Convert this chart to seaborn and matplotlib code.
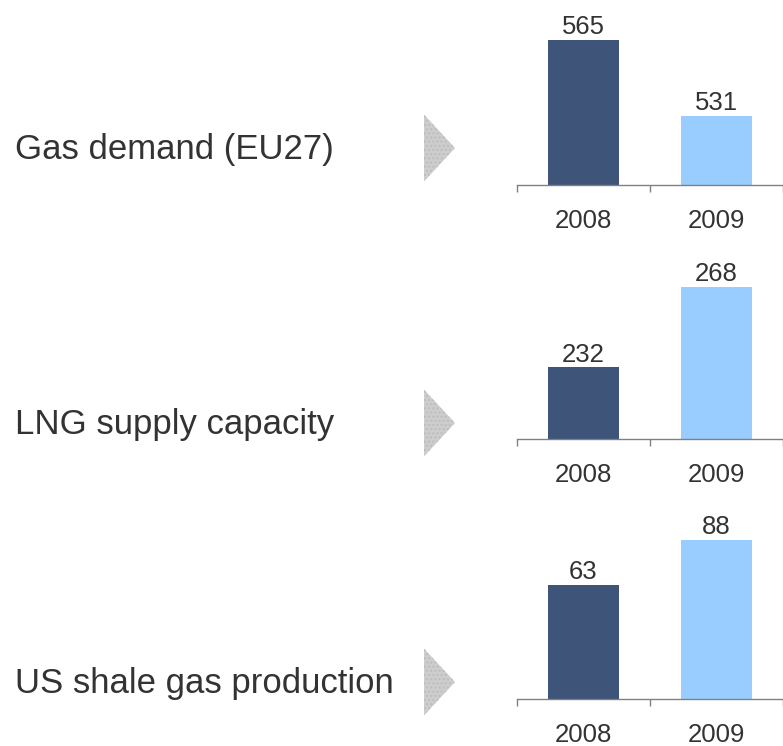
import matplotlib
matplotlib.use("Agg")
import matplotlib.pyplot as plt
from matplotlib.patches import Polygon
import seaborn as sns
import pandas as pd

# ---- data ----
metrics = ["Gas demand (EU27)", "LNG supply capacity", "US shale gas production"]
years = ["2008", "2009"]
values_2008 = [565, 232, 63]
values_2009 = [531, 268, 88]
y_floor = [500, 200, 0]      # value axis starts
y_ceiling = [576, 276, 94]   # value axis ends

dark = "#3F5479"
light = "#99CCFF"
text_col = "#333333"
axis_col = "#808080"

sns.set_theme(style="white")
plt.rcParams["font.family"] = ["Liberation Sans", "DejaVu Sans"]
plt.rcParams["hatch.linewidth"] = 1.0

W, H = 783, 746
fig = plt.figure(figsize=(W / 100, H / 100), dpi=100)

ax_left_px, ax_right_px = 517, 783
ax_h_px = 170
baselines = [185, 439, 699]
label_centers = [146, 421, 680]

for i, name in enumerate(metrics):
    base = baselines[i]
    ax = fig.add_axes([ax_left_px / W, (H - base) / H,
                       (ax_right_px - ax_left_px) / W, ax_h_px / H])
    df = pd.DataFrame({"year": years, "value": [values_2008[i], values_2009[i]]})
    sns.barplot(data=df, x="year", y="value", hue="year",
                palette=[dark, light], width=0.54, legend=False, ax=ax,
                saturation=1, linewidth=0, edgecolor="none")
    ax.set_xlim(-0.5, 1.5)
    ax.set_ylim(y_floor[i], y_ceiling[i])
    for c in ax.containers:
        ax.bar_label(c, padding=0.5, fontsize=18.5, color=text_col, clip_on=False)
    for s in ["top", "left", "right"]:
        ax.spines[s].set_visible(False)
    ax.spines["bottom"].set_color(axis_col)
    ax.spines["bottom"].set_linewidth(1.0)
    ax.spines["bottom"].set_clip_on(False)
    ax.spines["bottom"].set_zorder(5)
    ax.set_yticks([])
    ax.set_xticks([-0.5, 0.5, 1.5])
    ax.set_xticklabels([])
    ax.set_xticks([0, 1], labels=years, minor=True)
    ax.tick_params(axis="x", which="major", length=5, width=1, color=axis_col,
                   direction="out", bottom=True)
    ax.tick_params(axis="x", which="minor", length=0, pad=17, labelsize=18.5,
                   labelcolor=text_col, bottom=True)
    ax.set_xlabel("")
    ax.set_ylabel("")
    ax.patch.set_alpha(0)

    # row label
    fig.text(15 / W, 1 - label_centers[i] / H, name, fontsize=25, color=text_col,
             ha="left", va="center_baseline")

    # grey arrow
    cy = label_centers[i] + 2
    tri = [(424 / W, 1 - (cy - 33.5) / H), (424 / W, 1 - (cy + 33.5) / H),
           (455 / W, 1 - cy / H)]
    fig.patches.append(Polygon(tri, closed=True, transform=fig.transFigure,
                               facecolor="#CDCDCD", edgecolor="#BDBDBD",
                               linewidth=0, hatch="...."))

fig.savefig("out.png", dpi=100)
